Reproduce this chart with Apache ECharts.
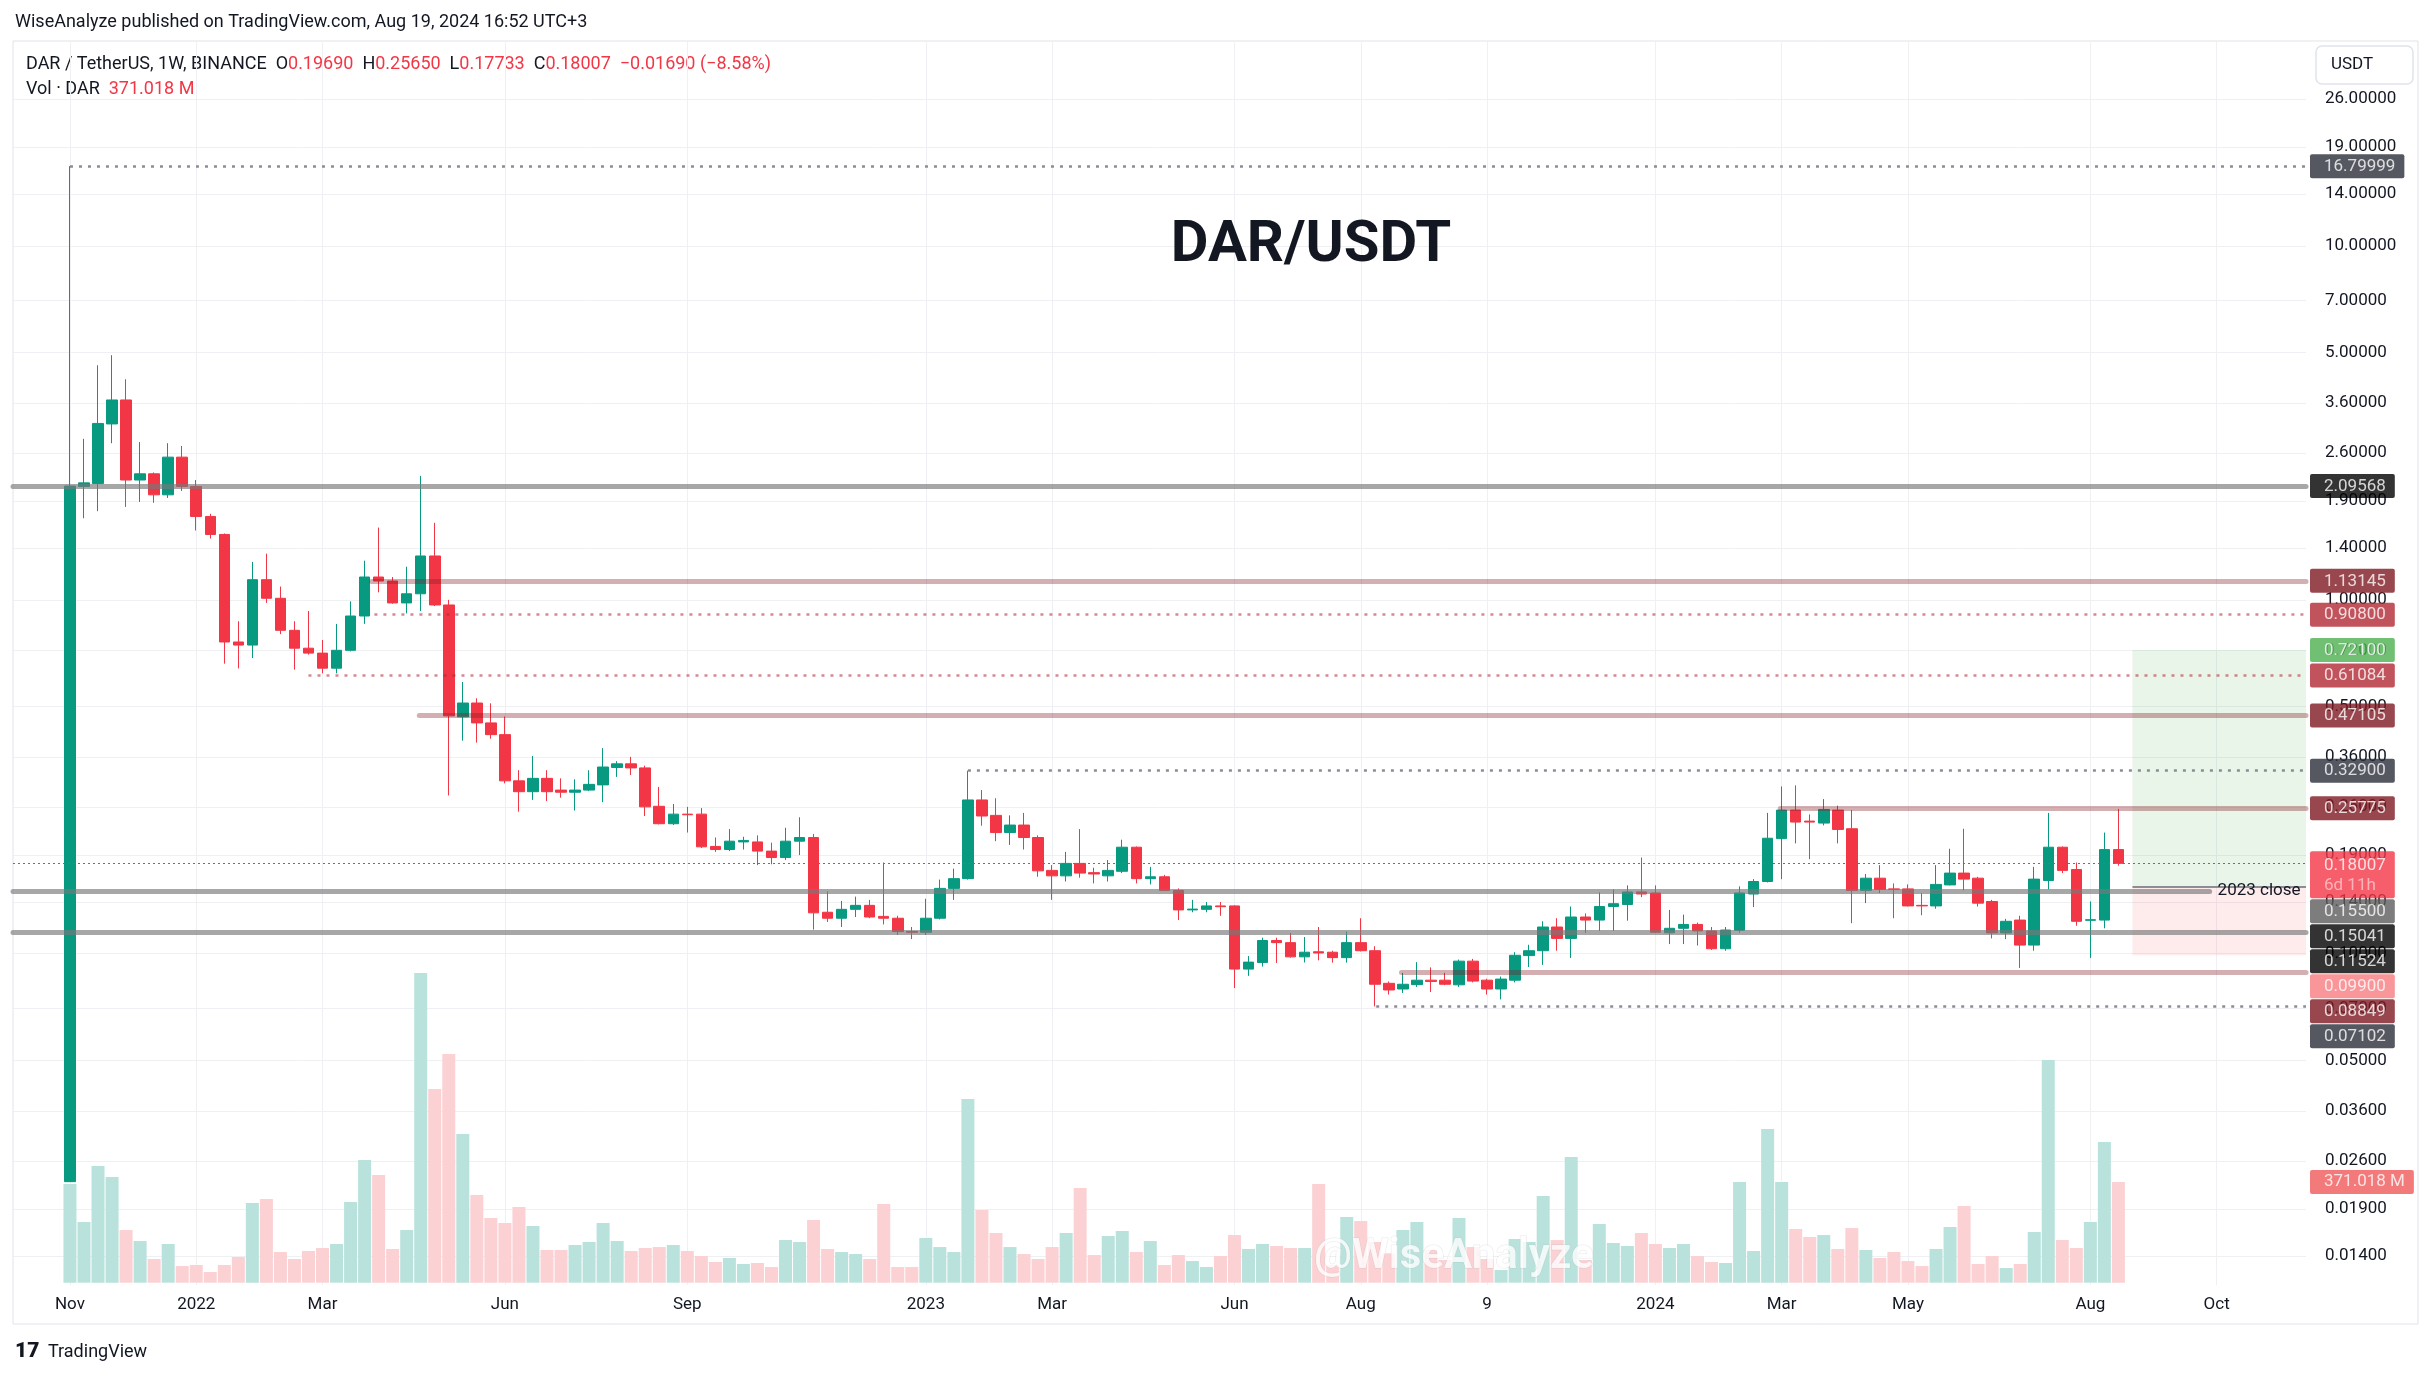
<!DOCTYPE html>
<html><head><meta charset="utf-8">
<script src="https://cdn.jsdelivr.net/npm/echarts@6/dist/echarts.min.js"></script>
<style>html,body{margin:0;padding:0;background:#fff}#c{width:2433px;height:1378px}</style>
</head><body><div id="c"></div>
<script>
// ---- DATA (weekly candles, first week starts 2021-11-01) ----
const weekStart = '2021-11-01';
const opens = [0.0227,2.09,2.13,3.14,3.67,2.18,2.27,1.98,2.53,2.09,
1.72,1.53,0.76,0.745,1.14,1.01,0.82,0.73,0.707,0.641,
0.72,0.90,1.16,1.13,0.98,1.04,1.33,0.967,0.467,0.511,
0.449,0.416,0.308,0.287,0.313,0.29,0.286,0.29,0.30,0.336,
0.344,0.335,0.261,0.233,0.248,0.248,0.201,0.197,0.207,0.207,
0.195,0.187,0.208,0.213,0.131,0.126,0.1335,0.137,0.1275,0.126,
0.1155,0.115,0.126,0.153,0.163,0.272,0.246,0.22,0.231,0.213,
0.172,0.166,0.18,0.1695,0.166,0.171,0.200,0.163,0.165,0.151,
0.133,0.1335,0.1365,0.1365,0.0905,0.0945,0.109,0.1075,0.098,0.1013,
0.101,0.0975,0.1075,0.102,0.0825,0.0795,0.0818,0.0842,0.0842,0.0817,
0.0953,0.0842,0.0795,0.0842,0.0988,0.102,0.119,0.1105,0.127,0.1245,
0.136,0.1378,0.1495,0.1485,0.1146,0.118,0.121,0.116,0.1033,0.1165,
0.1475,0.160,0.2115,0.2546,0.237,0.234,0.2546,0.2255,0.151,0.1635,
0.1525,0.1525,0.137,0.1365,0.1565,0.169,0.1635,0.1405,0.1145,0.1245,
0.1058,0.161,0.200,0.173,0.1243,0.1245,0.1969];
const highs = [16.8,2.85,4.60,4.91,4.20,2.79,2.29,2.77,2.72,2.18,
1.75,1.54,0.87,1.28,1.35,1.09,0.87,0.93,0.77,0.855,
0.99,1.29,1.60,1.16,1.24,2.24,1.65,1.0,0.586,0.527,
0.51,0.468,0.33,0.362,0.33,0.313,0.311,0.33,0.381,0.35,
0.36,0.34,0.296,0.265,0.26,0.258,0.213,0.225,0.214,0.216,
0.206,0.227,0.243,0.218,0.15,0.141,0.145,0.142,0.181,0.128,
0.119,0.143,0.162,0.174,0.329,0.29,0.275,0.246,0.25,0.216,
0.178,0.194,0.225,0.175,0.184,0.21,0.201,0.176,0.167,0.153,
0.142,0.14,0.14,0.137,0.0985,0.111,0.111,0.1145,0.1115,0.119,
0.102,0.1155,0.126,0.105,0.0835,0.0883,0.0947,0.0915,0.0883,0.0963,
0.0967,0.085,0.0862,0.101,0.106,0.1235,0.126,0.136,0.13,0.149,
0.152,0.156,0.187,0.156,0.133,0.129,0.1225,0.119,0.119,0.155,
0.1625,0.25,0.297,0.299,0.2475,0.2735,0.262,0.2546,0.168,0.178,
0.158,0.157,0.1485,0.178,0.198,0.2255,0.165,0.142,0.1255,0.128,
0.176,0.25,0.201,0.181,0.1405,0.22,0.2565];
const lows = [0.0227,1.70,1.78,2.77,1.83,1.89,1.88,1.94,2.03,1.57,
1.49,0.66,0.64,0.685,0.98,0.80,0.635,0.70,0.62,0.62,
0.715,0.855,1.05,0.975,0.915,0.93,0.96,0.28,0.40,0.395,
0.405,0.303,0.252,0.272,0.27,0.276,0.254,0.288,0.268,0.316,
0.32,0.245,0.232,0.231,0.22,0.199,0.194,0.195,0.197,0.178,
0.179,0.184,0.19,0.117,0.123,0.119,0.127,0.126,0.121,0.113,
0.11,0.113,0.125,0.142,0.162,0.23,0.208,0.203,0.197,0.165,
0.142,0.16,0.164,0.158,0.16,0.169,0.158,0.157,0.1505,0.1245,
0.131,0.131,0.128,0.08,0.0866,0.092,0.0942,0.0975,0.0945,0.0958,
0.0944,0.0944,0.1015,0.071,0.0767,0.0775,0.0806,0.078,0.0815,0.0806,
0.083,0.0767,0.0743,0.083,0.0917,0.093,0.102,0.0973,0.1145,0.116,
0.116,0.124,0.1445,0.1145,0.1065,0.1065,0.1055,0.1025,0.102,0.1148,
0.1355,0.159,0.1625,0.205,0.185,0.2305,0.205,0.122,0.139,0.1485,
0.126,0.136,0.1285,0.134,0.156,0.151,0.136,0.1105,0.11,0.0912,
0.102,0.152,0.169,0.12,0.0973,0.118,0.17733];
const closes = [2.0957,2.14,3.15,3.67,2.18,2.27,1.98,2.53,2.09,1.72,
1.53,0.76,0.745,1.14,1.01,0.82,0.73,0.707,0.641,0.72,
0.90,1.16,1.13,0.98,1.04,1.33,0.967,0.47,0.511,0.449,
0.416,0.308,0.287,0.313,0.287,0.286,0.29,0.301,0.337,0.344,
0.335,0.26,0.233,0.248,0.247,0.2005,0.197,0.208,0.209,0.195,
0.187,0.208,0.213,0.1305,0.126,0.1335,0.137,0.127,0.126,0.1155,
0.115,0.126,0.153,0.163,0.272,0.245,0.22,0.231,0.213,0.1715,
0.166,0.18,0.169,0.168,0.172,0.200,0.163,0.165,0.151,0.133,
0.1337,0.1365,0.1358,0.0905,0.0947,0.109,0.1075,0.098,0.101,0.1005,
0.0975,0.1075,0.102,0.082,0.079,0.082,0.0842,0.0835,0.082,0.0953,
0.0837,0.0795,0.0848,0.099,0.102,0.119,0.1105,0.127,0.1245,0.136,
0.1385,0.1495,0.1475,0.115,0.118,0.121,0.116,0.1033,0.1167,0.1485,
0.160,0.212,0.2546,0.2355,0.2355,0.2557,0.2245,0.151,0.1635,0.152,
0.152,0.1365,0.1365,0.157,0.169,0.1625,0.139,0.1145,0.1235,0.1058,
0.1625,0.200,0.172,0.1235,0.1248,0.1969,0.18007];
const volumesM = [363.6,223.6,429.9,389.4,194.1,153.5,87.2,142.5,61.4,65.1,
39.3,65.1,94.6,293.6,308.3,113.0,87.2,116.7,127.7,142.5,
297.2,452.0,396.7,124.1,194.1,1141.1,713.6,842.6,547.8,323.0,
238.3,219.9,278.8,208.8,120.4,120.4,138.8,149.9,219.9,153.5,
116.7,127.7,131.4,138.8,116.7,98.3,76.2,90.9,68.8,72.5,
57.7,157.2,149.9,230.9,124.1,113.0,105.6,87.2,289.9,57.7,
57.7,164.6,131.4,113.0,676.8,267.8,183.0,131.4,105.6,87.2,
131.4,183.0,348.8,101.9,172.0,190.4,113.0,153.5,65.1,101.9,
79.8,57.7,98.3,175.6,124.1,142.5,135.1,127.7,127.7,363.6,
65.1,242.0,227.2,149.9,108.1,194.1,223.6,120.4,83.5,238.3,
131.4,87.2,46.7,160.9,149.9,319.4,157.2,463.1,83.5,216.2,
146.2,135.1,183.0,142.5,127.7,142.5,98.3,76.2,72.5,370.9,
116.7,566.2,370.9,197.8,168.3,175.6,124.1,201.4,120.4,90.9,
113.0,79.8,61.4,124.1,205.1,282.5,68.8,98.3,54.0,68.8,
186.7,820.5,157.2,127.7,223.6,518.3,371.018];

// time axis ticks (week index from weekStart) and their labels
const timeTickWeeks = [0,9,18,31,44,61,70,83,92,101,113,122,131,144,153];
const timeTickLabels = ['Nov','2022','Mar','Jun','Sep','2023','Mar','Jun','Aug','9','2024','Mar','May','Aug','Oct'];
// price axis ticks
const priceTicks = [26,19,14,10,7,5,3.6,2.6,1.9,1.4,1,0.72,0.5,0.36,0.26,0.19,0.14,0.1,0.07,0.05,0.036,0.026,0.019,0.014];

// drawn horizontal levels
const levelPrices = [16.79999,2.09568,1.13145,0.908,0.61084,0.47105,0.329,0.25775,0.18007,0.15041,0.11524,0.08849,0.07102];
const levelStartWeek = [0,null,21.5,21.7,17,24.9,64,121.9,null,null,null,94.9,93.1];
const levelKind = ['dotGray','solidGray','solidPink','dotPink','dotPink','solidPink','dotGray','solidPink','dotRed','solidGray','solidGray','solidPink','dotGray'];
const levelText = ['','','','','','','','','','2023 close','','',''];
const levelEndWeek = [null,null,null,null,null,null,null,null,null,152.5,null,null,null];

// long position tool
const posStartWeek = 147, posEntry = 0.155, posTarget = 0.721, posStop = 0.099;

// price-scale labels
const labelPrices = [16.79999,2.09568,1.13145,0.908,0.721,0.61084,0.47105,0.329,0.25775,0.18007,0.155,0.15041,0.11524,0.099,0.08849,0.07102];
const labelTexts = ['16.79999','2.09568','1.13145','0.90800','0.72100','0.61084','0.47105','0.32900','0.25775','0.18007|6d 11h','0.15500','0.15041','0.11524','0.09900','0.08849','0.07102'];
const labelColors = ['#2a2e39','#000000','#801922','#b22833','#4caf50','#b22833','#801922','#2a2e39','#801922','#f23645','#5d5d5d','#000000','#000000','#f77c80','#801922','#2a2e39'];
const lastVolumeLabel = '371.018 M';

// ---- layout ----
const GRID = {left: 13, right: 127, top: 41, bottom: 93};
const X_MIN = -4.06, X_MAX = 159.37;
const lg = v => Math.log10(v);
const Y_MIN = lg(0.01159), Y_MAX = lg(37.92);
const VOL_MIN = -8.5, VOL_MAX = 4575;
const UP = '#089981', DN = '#f23645';
const FONT = 'Roboto';

const candleData = opens.map((o, i) => [i, lg(o), lg(closes[i]), lg(lows[i]), lg(highs[i])]);
const volData = volumesM.map((v, i) => ({value: [i, v], itemStyle: {color: closes[i] >= opens[i] ? '#b9e2dc' : '#fbd1d4'}}));

const kinds = {
  dotGray: {color: '#8a8d96', width: 2.5, type: [3, 6]},
  solidGray: {color: 'rgba(120,120,120,0.65)', width: 5, type: 'solid', cap: 'round'},
  solidPink: {color: 'rgba(128,25,34,0.35)', width: 5, type: 'solid', cap: 'round'},
  dotPink: {color: 'rgba(178,40,51,0.55)', width: 2.5, type: [3, 6]},
  dotRed: {color: '#f23645', width: 1, type: [2, 3]}
};
const mlData = levelPrices.map((p, k) => {
  const x0 = levelStartWeek[k] == null ? X_MIN : levelStartWeek[k];
  const x1 = levelEndWeek[k] == null ? X_MAX : levelEndWeek[k];
  const first = {coord: [x0, lg(p)], lineStyle: kinds[levelKind[k]]};
  if (levelText[k]) first.label = {show: true, position: 'end', formatter: levelText[k], color: '#131722', fontSize: 17, fontFamily: FONT, distance: 8};
  return [first, {coord: [x1, lg(p)]}];
});
mlData.push([{coord: [posStartWeek, lg(posEntry)], lineStyle: {color: '#6a6d78', width: 1.5, type: 'solid'}}, {coord: [X_MAX, lg(posEntry)]}]);

// price labels: push-down stacking like the price scale
const gridH = 1378 - GRID.top - GRID.bottom;
const pxPerY = gridH / (Y_MAX - Y_MIN);
let prevBottom = -1e9;
const labelData = labelPrices.map((p, k) => {
  const trueY = GRID.top + (Y_MAX - lg(p)) * pxPerY;
  const two = labelTexts[k].indexOf('|') >= 0;
  const h = two ? 47 : 24;
  const top = Math.max(trueY - 12, prevBottom + 1);
  prevBottom = top + h;
  const naturalTop = trueY - h / 2;
  const parts = labelTexts[k].split('|');
  return {
    value: [X_MAX, lg(p)],
    label: {
      offset: [0, top - naturalTop],
      backgroundColor: labelColors[k],
      formatter: two ? '{a|' + parts[0] + '}\n{b|' + parts[1] + '}' : '{a|' + parts[0] + '}',
      rich: {
        a: {color: '#ffffff', fontSize: 17, fontFamily: FONT, lineHeight: two ? 20 : 17},
        b: {color: '#ffc9cd', fontSize: 17, fontFamily: FONT, lineHeight: 20}
      }
    }
  };
});

const chart = echarts.init(document.getElementById('c'), null, {renderer: 'canvas'});
chart.setOption({
  animation: false,
  backgroundColor: '#ffffff',
  grid: GRID,
  xAxis: {
    type: 'value', min: X_MIN, max: X_MAX,
    axisLine: {show: false},
    axisTick: {show: false, customValues: timeTickWeeks},
    axisLabel: {customValues: timeTickWeeks, formatter: v => timeTickLabels[timeTickWeeks.indexOf(Math.round(v))],
      color: '#131722', fontSize: 17, fontFamily: FONT, margin: 11},
    splitLine: {show: true, lineStyle: {color: '#eef0f4', width: 1}}
  },
  yAxis: [{
    type: 'value', position: 'right', min: Y_MIN, max: Y_MAX,
    axisLine: {show: false},
    axisTick: {show: false, customValues: priceTicks.map(lg)},
    axisLabel: {customValues: priceTicks.map(lg), formatter: v => Math.pow(10, v).toFixed(5),
      color: '#131722', fontSize: 17, fontFamily: FONT, margin: 19, align: 'left'},
    splitLine: {show: true, lineStyle: {color: '#eef0f4', width: 1}}
  }, {
    type: 'value', min: VOL_MIN, max: VOL_MAX, show: false, splitLine: {show: false}
  }],
  series: [{
    type: 'bar', name: 'Vol', xAxisIndex: 0, yAxisIndex: 1, data: volData, barWidth: 13, z: 1, silent: true
  }, {
    type: 'candlestick', name: 'DAR/USDT', xAxisIndex: 0, yAxisIndex: 0, data: candleData, barWidth: 11, z: 3,
    itemStyle: {color: UP, color0: DN, borderColor: UP, borderColor0: DN, borderWidth: 1},
    markLine: {silent: true, symbol: ['none', 'none'], label: {show: false}, z: 5, data: mlData, animation: false},
    markArea: {silent: true, z: 1, data: [
      [{coord: [posStartWeek, lg(posTarget)], itemStyle: {color: 'rgba(76,175,80,0.13)'}}, {coord: [X_MAX, lg(posEntry)]}],
      [{coord: [posStartWeek, lg(posEntry)], itemStyle: {color: 'rgba(242,54,69,0.10)'}}, {coord: [X_MAX, lg(posStop)]}]
    ]}
  }, {
    type: 'scatter', yAxisIndex: 0, symbolSize: 0, clip: false, z: 10, silent: true, data: labelData,
    label: {show: true, position: 'right', distance: 4, padding: [4, 9, 3, 14], borderRadius: 2}
  }, {
    type: 'scatter', yAxisIndex: 1, symbolSize: 0, clip: false, z: 10, silent: true,
    data: [{value: [X_MAX, volumesM[volumesM.length - 1]]}],
    label: {show: true, position: 'right', distance: 4, padding: [4, 9, 3, 14], borderRadius: 2,
      backgroundColor: '#f0595a', color: '#ffffff', fontSize: 17, fontFamily: FONT, lineHeight: 17, formatter: lastVolumeLabel}
  }],
  graphic: [
    {type: 'rect', shape: {x: 13, y: 41, width: 2405, height: 1283}, style: {fill: 'none', stroke: '#e0e3eb', lineWidth: 1}, silent: true, z: 0},
    {type: 'text', x: 15, y: 22, style: {text: 'WiseAnalyze published on TradingView.com, Aug 19, 2024 16:52 UTC+3', fill: '#131722', font: '18px Roboto', verticalAlign: 'middle', textVerticalAlign: 'middle'}},
    {type: 'text', x: 26, y: 64, style: {
      text: '{n|DAR / TetherUS, 1W, BINANCE}  {n|O}{r|0.19690}  {n|H}{r|0.25650}  {n|L}{r|0.17733}  {n|C}{r|0.18007}  {r|−0.01690 (−8.58%)}',
      verticalAlign: 'middle', textVerticalAlign: 'middle', font: '18px Roboto',
      rich: {n: {fill: '#131722', fontSize: 18, fontFamily: FONT}, r: {fill: '#f23645', fontSize: 18, fontFamily: FONT}}}},
    {type: 'text', x: 26, y: 89, style: {
      text: '{n|Vol · DAR}  {r|371.018 M}', verticalAlign: 'middle', textVerticalAlign: 'middle', font: '18px Roboto',
      rich: {n: {fill: '#131722', fontSize: 18, fontFamily: FONT}, r: {fill: '#f23645', fontSize: 18, fontFamily: FONT}}}},
    {type: 'text', x: 1311, y: 246, z: 20, style: {text: 'DAR/USDT', fill: '#131722', font: 'bold 58px Roboto', align: 'center', textAlign: 'center', verticalAlign: 'middle', textVerticalAlign: 'middle'}},
    {type: 'rect', z: 20, shape: {x: 2316, y: 46, width: 97, height: 38, r: 6}, style: {fill: '#ffffff', stroke: '#e0e3eb', lineWidth: 1.5}},
    {type: 'text', z: 21, x: 2331, y: 65, style: {text: 'USDT', fill: '#131722', font: '17px Roboto', verticalAlign: 'middle', textVerticalAlign: 'middle'}},
    {type: 'text', z: 30, x: 1454, y: 1257, style: {text: '@WiseAnalyze', fill: 'rgba(255,255,255,0.78)', stroke: 'rgba(160,160,160,0.22)', lineWidth: 1, font: 'bold 42px Roboto', align: 'center', textAlign: 'center', verticalAlign: 'middle', textVerticalAlign: 'middle'}},
    {type: 'text', x: 15, y: 1352, style: {text: '17', fill: '#131722', font: '900 21px Roboto', verticalAlign: 'middle', textVerticalAlign: 'middle'}},
    {type: 'text', x: 48, y: 1352, style: {text: 'TradingView', fill: '#131722', font: '18px Roboto', verticalAlign: 'middle', textVerticalAlign: 'middle'}}
  ]
});
</script>
</body></html>
